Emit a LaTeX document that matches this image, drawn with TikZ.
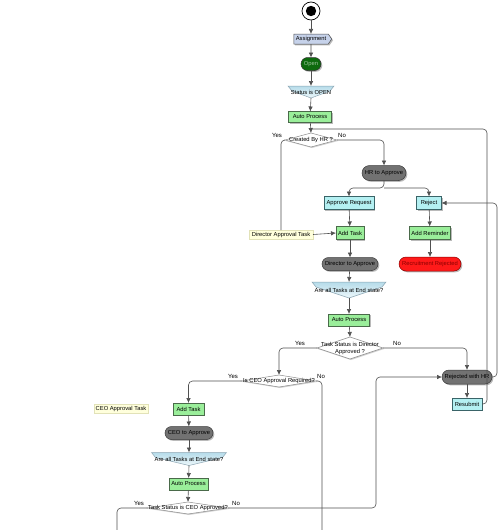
\documentclass[tikz,border=0pt]{standalone}
\usepackage{fontspec}
\setmainfont{Liberation Sans}
\usetikzlibrary{shapes.geometric,shapes.symbols,shadows,arrows.meta,calc,backgrounds}
\definecolor{linec}{HTML}{505050}
\definecolor{greenfill}{HTML}{9AEE9A}
\definecolor{greenborder}{HTML}{4A6A4A}
\definecolor{cyanfill}{HTML}{B4F0F2}
\definecolor{cyanborder}{HTML}{3A6468}
\definecolor{grayfill}{HTML}{727272}
\definecolor{grayborder}{HTML}{3A3A3A}
\definecolor{redfill}{HTML}{FF1A1A}
\definecolor{redborder}{HTML}{8A0000}
\definecolor{opengreen}{HTML}{0E6A0E}
\definecolor{notefill}{HTML}{FFFFDC}
\definecolor{noteborder}{HTML}{E2E2B8}
\definecolor{assignfill}{HTML}{C6D2EA}
\definecolor{ribtop}{HTML}{B6DCEA}
\definecolor{ribbot}{HTML}{EEF8FB}
\definecolor{ribborder}{HTML}{8AA4B2}
\definecolor{diamborder}{HTML}{8A8A8A}
\begin{document}
\begin{tikzpicture}[x=1pt,y=-1pt,
  font=\fontsize{5.8}{6.6}\selectfont,
  conn/.style={draw=linec, line width=0.6pt, rounded corners=4pt},
  arr/.style={conn, -{Latex[length=5pt,width=4.5pt]}},
  base/.style={inner sep=0pt, outer sep=0pt, align=center,
    drop shadow={shadow xshift=1.3pt, shadow yshift=-1.3pt, opacity=0.45, fill=black!60}},
  greenbox/.style={base, rectangle, draw=greenborder, fill=greenfill, line width=0.5pt},
  cyanbox/.style={base, rectangle, draw=cyanborder, fill=cyanfill, line width=0.5pt},
  graystad/.style={base, rectangle, draw=grayborder, fill=grayfill, line width=0.5pt, text=black},
  redstad/.style={base, rectangle, draw=redborder, fill=redfill, line width=0.5pt, text=redborder},
  notebox/.style={inner sep=0pt, outer sep=0pt, rectangle, draw=noteborder, fill=notefill, line width=0.4pt},
  decision/.style={diamond, draw=diamborder, fill=white, inner sep=0pt, outer sep=0pt, line width=0.5pt,
    drop shadow={shadow xshift=1pt, shadow yshift=-1pt, opacity=0.3, fill=black!60}},
  ribbontext/.style={inner sep=0pt, outer sep=0pt, rectangle},
  ribbonsh/.style={draw=ribborder, line width=0.5pt, top color=ribtop, bottom color=ribbot},
  lbl/.style={inner sep=0pt, font=\fontsize{6}{7}\selectfont}
]
\useasboundingbox (0,0) rectangle (500,530);

% start and first chain
\node[circle, draw=black, line width=0.7pt, fill=white, minimum size=18pt, inner sep=0pt,
  path picture={\fill[black] (path picture bounding box.center) circle (5.2pt);}] (start) at (311,11) {};
\node[base, signal, signal to=east, signal pointer angle=110, draw=black!70, fill=assignfill,
  minimum width=38pt, minimum height=10pt, line width=0.5pt] (assign) at (311,39) {Assignment};
\node[base, rectangle, rounded corners=6.5pt, draw=black!80, fill=opengreen, text=green!25!gray!60,
  minimum width=20pt, minimum height=13pt, line width=0.5pt] (open) at (311,64) {Open};
\node[ribbontext, minimum width=46pt, minimum height=12pt] (r0) at (311,92) {Status is OPEN};
\node[greenbox, minimum width=43pt, minimum height=11pt] (ap1) at (310,117) {Auto Process};
\node[decision, minimum width=52pt, minimum height=14pt, label={[inner sep=0pt]center:Created By HR ?}] (d1) at (311,140) {};
\coordinate (m1) at (310,129);
\node[lbl] (yes1) at (277,135) {Yes};
\node[lbl] (no1) at (342,135) {No};

\node[notebox, minimum width=64pt, minimum height=9pt] (note1) at (281,234.5) {Director Approval Task};
\node[graystad, rounded corners=7.5pt, minimum width=44pt, minimum height=15pt] (hr) at (384,173) {HR to Approve};
\coordinate (sp) at (384,188);
\node[cyanbox, minimum width=50pt, minimum height=13pt] (ar) at (349,203) {Approve Request};
\node[cyanbox, minimum width=25pt, minimum height=13pt] (rej) at (429,203) {Reject};
\node[greenbox, minimum width=28pt, minimum height=13pt] (at1) at (350,233) {Add Task};
\node[greenbox, minimum width=41pt, minimum height=13pt] (rem) at (430,233) {Add Reminder};
\node[graystad, rounded corners=6.5pt, minimum width=56pt, minimum height=13pt] (dta) at (350,264) {Director to Approve};
\node[redstad, rounded corners=7pt, minimum width=62pt, minimum height=14pt] (rr) at (430,264) {Recruitment Rejected};
\node[ribbontext, minimum width=74pt, minimum height=16pt] (r1) at (349,290) {Are all Tasks at End state?};
\node[greenbox, minimum width=41pt, minimum height=12pt] (ap2) at (349,320) {Auto Process};
\node[decision, minimum width=66pt, minimum height=22pt,
  label={[inner sep=0pt, align=center, font=\fontsize{5.8}{7}\selectfont]center:Task Status is Director\\Approved ?}] (d2) at (350,348) {};
\node[lbl] (yes2) at (300,343) {Yes};
\node[lbl] (no2) at (397,343) {No};

\node[graystad, rounded corners=7pt, minimum width=50pt, minimum height=14pt] (rwh) at (467,377) {Rejected with HR};
\node[cyanbox, minimum width=30pt, minimum height=12pt] (res) at (467,404) {Resubmit};

\node[decision, minimum width=74pt, minimum height=12pt, label={[inner sep=0pt]center:Is CEO Approval Required?}] (d3) at (279,381) {};
\node[lbl] (yes3) at (233,376) {Yes};
\node[lbl] (no3) at (321,376) {No};
\coordinate (e3) at (322,530);

\node[notebox, minimum width=54pt, minimum height=9pt] (note2) at (121,409) {CEO Approval Task};
\node[greenbox, minimum width=31pt, minimum height=12pt] (at2) at (188.5,409) {Add Task};
\node[graystad, rounded corners=6.5pt, minimum width=48pt, minimum height=13pt] (cta) at (189,433) {CEO to Approve};
\node[ribbontext, minimum width=75pt, minimum height=13pt] (r2) at (189,459) {Are all Tasks at End state?};
\node[greenbox, minimum width=39pt, minimum height=12pt] (ap3) at (188.5,484) {Auto Process};
\node[decision, minimum width=80pt, minimum height=12pt, label={[inner sep=0pt]center:Task Status is CEO Approved?}] (d4) at (188,508) {};
\node[lbl] (yes4) at (139,503) {Yes};
\node[lbl] (no4) at (236,503) {No};
\coordinate (e4) at (117,530);

% ribbon shapes
\begin{pgfonlayer}{background}
\foreach \r in {r0,r1,r2}{
  \draw[ribbonsh] (\r.north west) -- (\r.north east) -- ($(\r.north east)+(-4,5)$) -- (\r.south)
     -- ($(\r.north west)+(4,5)$) -- cycle;
}
\end{pgfonlayer}

% connectors
\draw[arr] (start) -- (assign);
\draw[arr] (assign) -- (open);
\draw[arr] (open) -- (r0.north);
\draw[arr] (r0.south) -- (ap1);
\draw[arr] (ap1) -- (d1.north);
\draw[conn] (d1.west) -| (note1.north);
\draw[arr] (note1.east) -- (at1.west);
\draw[arr] (d1.east) -| (hr.north);
\draw[arr] (hr.south) -- (sp) -| (ar.north);
\draw[arr] (sp) -| (rej.north);
\draw[arr] (ar) -- (at1);
\draw[arr] (rej) -- (rem);
\draw[arr] (rem) -- (rr);
\draw[arr] (at1) -- (dta);
\draw[arr] (dta) -- (r1.north);
\draw[arr] (r1.south) -- (ap2);
\draw[arr] (ap2) -- (d2.north);
\draw[arr] (d2.west) -| (d3.north);
\draw[arr] (d2.east) -| (rwh.north);
\draw[arr] (rwh) -- (res);
\draw[conn] (res.east) -| ([xshift=5pt]res.east |- m1) -- (m1);
\draw[arr] (rwh.east) -- ++(5,0) |- (rej.east);
\draw[arr] (d3.west) -| (at2.north);
\draw[conn] (d3.east) -| (e3);
\draw[arr] (at2) -- (cta);
\draw[arr] (cta) -- (r2.north);
\draw[arr] (r2.south) -- (ap3);
\draw[arr] (ap3) -- (d4.north);
\draw[conn] (d4.west) -| (e4);
\draw[arr] (d4.east) -| ([xshift=-66pt]rwh.west) -- (rwh.west);
\end{tikzpicture}
\end{document}
